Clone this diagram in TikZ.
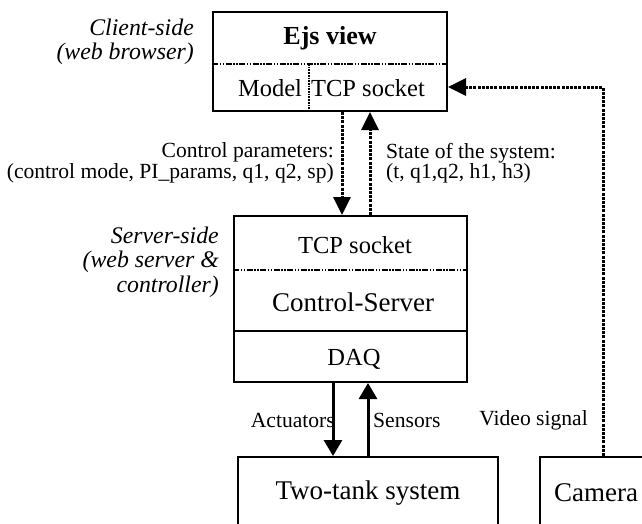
\documentclass[tikz,border=0pt]{standalone}
\usepackage{fontspec}
\setmainfont{Liberation Serif}
\usetikzlibrary{arrows.meta,calc}

\begin{document}
\begin{tikzpicture}[x=1pt,y=-1pt,
    box/.style={draw,line width=2pt,inner sep=0pt},
    lbl/.style={inner sep=0pt,font=\fontsize{21.6}{20.5}\selectfont},
    side/.style={inner sep=0pt,align=right,font=\fontsize{23.8}{24.5}\selectfont\itshape},
    part/.style={inner sep=0pt,font=\fontsize{24.5}{26}\selectfont},
    big/.style={inner sep=0pt,font=\fontsize{27}{28}\selectfont},
    divline/.style={line width=1.7pt,dash pattern=on 6pt off 1.5pt on 1.5pt off 1.5pt on 1.5pt off 1.5pt},
    link/.style={line width=3pt,dash pattern=on 3pt off 1.2pt,-{Triangle[length=18pt,width=17pt]}},
    signal/.style={line width=3pt,-{Triangle[length=16pt,width=18pt]}}]
    \clip (0,0) rectangle (642,523);

    % Boxes
    \node[box,minimum width=234pt,minimum height=99pt] (ejs) at (330,61.5) {};
    \node[box,minimum width=233pt,minimum height=166pt] (srv) at (350.5,299) {};
    \node[box,minimum width=260pt,minimum height=74pt] (tank) at (368,494) {};
    \node[box,minimum width=112pt,minimum height=74pt] (camera) at (596,494) {};

    % Dividers
    \draw[divline] ([yshift=-53pt]ejs.north west) -- ([yshift=-53pt]ejs.north east);
    \draw[line width=1.7pt,densely dotted] ([xshift=97pt,yshift=-53pt]ejs.north west) -- ([xshift=97pt]ejs.south west);
    \draw[divline] ([yshift=-55pt]srv.north west) -- ([yshift=-55pt]srv.north east);
    \draw[line width=2pt] ([yshift=-116pt]srv.north west) -- ([yshift=-116pt]srv.north east);

    % Box texts
    \node[part,font=\fontsize{26}{28}\selectfont\bfseries] (ejsview) at (330,38) {Ejs view};
    \node[part] (model) at (270,88) {Model};
    \node[part] (tcpc) at (368,88) {TCP socket};
    \node[part] (tcps) at (355,245) {TCP socket};
    \node[big] (ctrl) at (353,302) {Control-Server};
    \node[part] (daq) at (354,359) {DAQ};
    \node[big] (tanktext) at (368,493) {Two-tank system};
    \node[big] (camtext) at (596,493) {Camera};

    % Side labels
    \node[side,anchor=east] (client) at (194,42) {Client-side\\(web browser)};
    \node[side,anchor=east] (server) at (219,262) {Server-side\\(web server \&\\controller)};

    % Connectors
    \coordinate (cdn) at ([xshift=12pt]ejs.south);
    \coordinate (cup) at ([xshift=40pt]ejs.south);
    \draw[link] (cdn) -- (cdn |- srv.north);
    \draw[link] (cup |- srv.north) -- (cup);
    \coordinate (act) at ([xshift=-17.5pt]srv.south);
    \draw[signal] (act) -- (act |- tank.north);
    \draw[signal] (tank.north) -- (tank.north |- srv.south);
    \coordinate (vbend) at (603,87);
    \draw[link] (camera.north -| vbend) |- (vbend -| ejs.east);

    % Connector labels
    \node[lbl,align=right,anchor=east] (params) at (334,163) {Control parameters:\\(control mode, PI\_params, q1, q2, sp)};
    \node[lbl,align=left,anchor=west] (state) at (386,163) {State of the system:\\(t, q1,q2, h1, h3)};
    \node[lbl,anchor=east] (actlbl) at (335,420) {Actuators};
    \node[lbl,anchor=west] (senslbl) at (373,420) {Sensors};
    \node[lbl,anchor=east] (vidlbl) at (588,420) {Video signal};
\end{tikzpicture}
\end{document}
